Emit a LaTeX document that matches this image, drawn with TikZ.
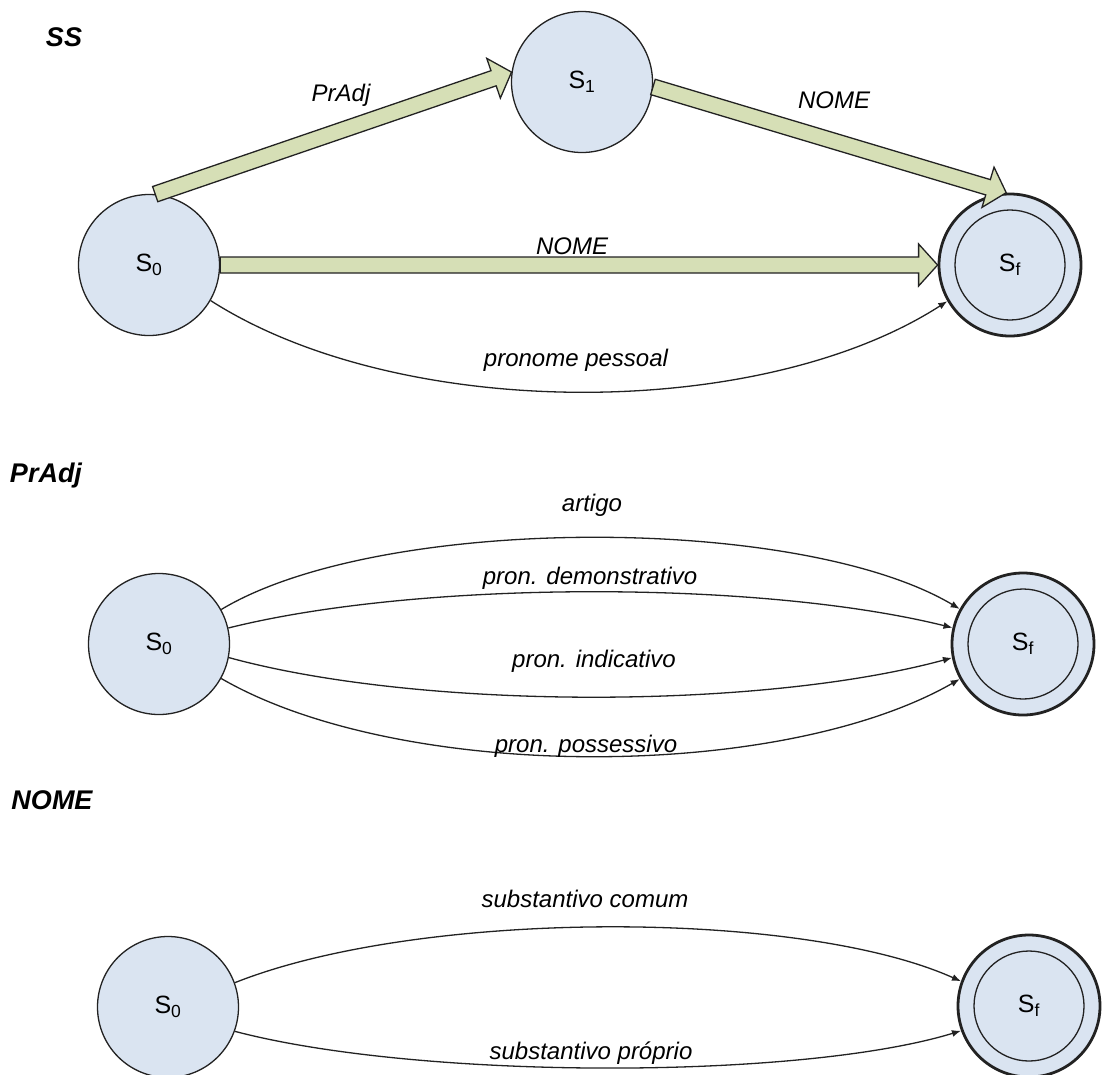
\documentclass[tikz,border=0pt]{standalone}
\usepackage{fontspec}
\setmainfont{Liberation Sans}
\usetikzlibrary{calc,arrows.meta}

\definecolor{stateblue}{HTML}{DAE4F1}
\definecolor{pathgreen}{HTML}{D6DFB6}
\definecolor{inkline}{HTML}{222222}

\tikzset{
  state/.style={circle, draw=inkline, line width=1.3pt, fill=stateblue,
    minimum size=141pt, inner sep=0pt, font=\fontsize{25}{30}\selectfont},
  final/.style={state, line width=2.8pt, minimum size=142pt},
  finalring/.style={circle, draw=inkline, line width=1.3pt, minimum size=110pt, inner sep=0pt},
  edge/.style={draw=inkline, line width=1.3pt, -{Latex[length=9pt,width=7pt]}},
  lbl/.style={font=\fontsize{24}{28}\selectfont\itshape, inner sep=0pt},
  heading/.style={font=\fontsize{27}{32}\selectfont\bfseries\itshape, inner sep=0pt},
  fatbody/.style={fill=pathgreen, draw=inkline, line width=1.3pt, line join=miter},
}

% broad outlined arrow from #1 to #2 (shaft half-width 8, head half-width 21, head length 19)
\newcommand\fatarrow[2]{%
  \coordinate (fa-s) at (#1);
  \coordinate (fa-e) at (#2);
  \coordinate (fa-h) at ($(fa-e)!19pt!(fa-s)$);
  \filldraw[fatbody]
    ($(fa-s)!8pt!90:(fa-e)$) -- ($(fa-h)!8pt!-90:(fa-s)$) --
    ($(fa-h)!21pt!-90:(fa-s)$) -- (fa-e) --
    ($(fa-h)!21pt!90:(fa-s)$) -- ($(fa-h)!8pt!90:(fa-s)$) --
    ($(fa-s)!8pt!-90:(fa-e)$) -- cycle;
}

\begin{document}
\begin{tikzpicture}[x=1pt,y=-1pt]
\useasboundingbox[fill=white] (0,0) rectangle (1102,1074);

% ---------------- SS ----------------
\node[heading] (hss) at (64,37) {SS};
\node[state] (ss0) at (149,265) {S\textsubscript{0}};
\node[state] (ss1) at (582,82) {S\textsubscript{1}};
\node[final] (ssf) at (1010,265) {S\textsubscript{f}};
\node[finalring] (ssfr) at (ssf.center) {};

\fatarrow{ss0.85}{ss1.172}
\fatarrow{ss1.-4}{ssf.93}
\fatarrow{ss0.east}{ssf.west}
\draw[edge] (ss0.-30) .. controls (400,422) and (760,422) .. (ssf.-150);

\node[lbl] (lpradj) at (341,95) {PrAdj};
\node[lbl] (lnome1) at (834,100) {NOME};
\node[lbl] (lnome2) at (572,246) {NOME};
\node[lbl] (lpess) at (576,360) {pronome pessoal};

% ---------------- PrAdj ----------------
\node[heading] (hpradj) at (46,476) {PrAdj};
\node[state] (p0) at (159,644) {S\textsubscript{0}};
\node[final] (pf) at (1023,644) {S\textsubscript{f}};
\node[finalring] (pfr) at (pf.center) {};

\draw[edge] (p0.29) .. controls (380,514) and (800,514) .. (pf.151);
\draw[edge] (p0.13) .. controls (420,580) and (760,580) .. (pf.167);
\draw[edge] (p0.-11) .. controls (420,710) and (760,710) .. (pf.-169);
\draw[edge] (p0.-29) .. controls (400,782) and (780,782) .. (pf.-151);

\node[lbl] (lart) at (592,505) {artigo};
\node[lbl] (ldem) at (590,578) {pron. demonstrativo};
\node[lbl] (lind) at (594,661) {pron. indicativo};
\node[lbl] (lpos) at (586,746) {pron. possessivo};

% ---------------- NOME ----------------
\node[heading] (hnome) at (52,800) {NOME};
\node[state] (n0) at (168,1007) {S\textsubscript{0}};
\node[final] (nf) at (1029,1006) {S\textsubscript{f}};
\node[finalring] (nfr) at (nf.center) {};

\draw[edge] (n0.20) .. controls (420,909) and (800,909) .. (nf.160);
\draw[edge] (n0.-20) .. controls (420,1080) and (800,1080) .. (nf.-160);

\node[lbl] (lcom) at (585,899) {substantivo comum};
\node[lbl] (lpro) at (591,1053) {substantivo próprio};
\end{tikzpicture}
\end{document}
